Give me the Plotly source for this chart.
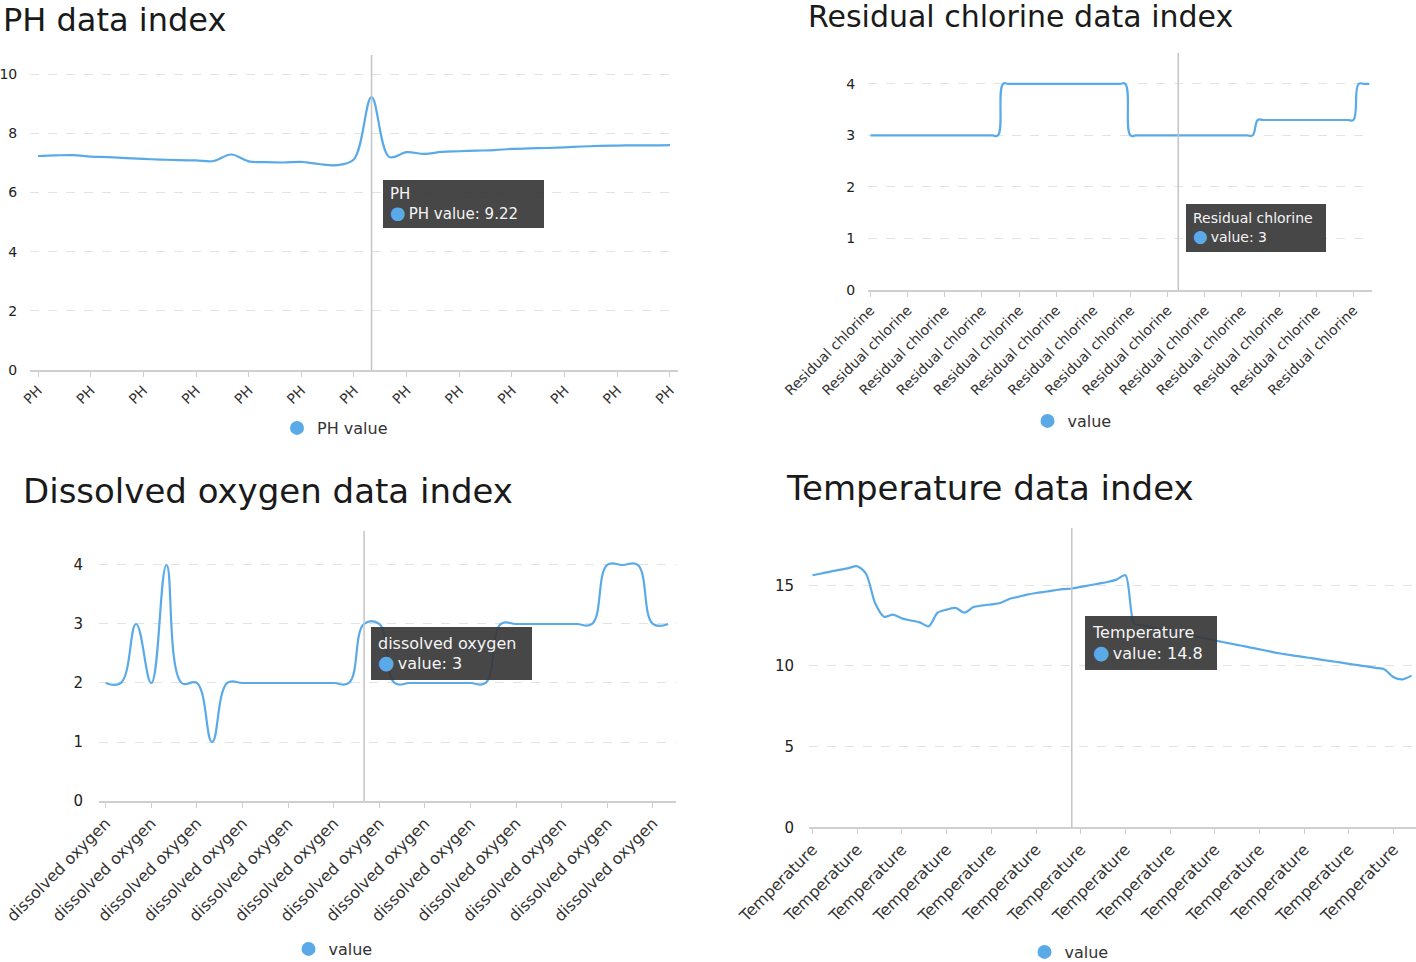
import plotly.graph_objects as go

# ---------------- data ----------------
ph_values = [7.23, 7.25, 7.26, 7.21, 7.19, 7.16, 7.13, 7.11, 7.09, 7.08, 7.06, 7.28, 7.05,
             7.02, 7.01, 7.03, 6.96, 6.92, 7.12, 9.22, 7.20, 7.36, 7.30, 7.37, 7.39, 7.41,
             7.43, 7.47, 7.49, 7.50, 7.52, 7.55, 7.57, 7.58, 7.59, 7.59, 7.60]
ph_category = "PH"
ph_label_step = 3
ph_hover_index = 19

chlorine_values = ([3] * 25 + [4] * 24 + [3] * 24 + [3.3] * 19 + [4] * 3)
chlorine_category = "Residual chlorine"
chlorine_label_step = 7
chlorine_hover_index = 58

oxygen_values = [2, 2, 3, 2, 4, 2, 2, 1, 2, 2, 2, 2, 2, 2, 2, 2, 2, 3, 3, 2, 2, 2, 2, 2, 2,
                 2, 3, 3, 3, 3, 3, 3, 3, 4, 4, 4, 3, 3]
oxygen_category = "dissolved oxygen"
oxygen_label_step = 3
oxygen_hover_index = 17

temp_values = [15.62, 15.73, 15.85, 15.95, 16.06, 16.18, 15.70, 13.90, 13.05, 13.18, 12.95,
               12.82, 12.70, 12.45, 13.30, 13.49, 13.60, 13.30, 13.65, 13.75, 13.82, 13.90,
               14.15, 14.28, 14.42, 14.52, 14.60, 14.68, 14.76, 14.80, 14.90, 15.00, 15.10,
               15.20, 15.35, 15.62, 12.60, 12.52, 12.35, 12.28, 12.16, 12.05, 11.93, 11.82,
               11.70, 11.58, 11.47, 11.36, 11.25, 11.14, 11.03, 10.92, 10.80, 10.71, 10.63,
               10.55, 10.47, 10.38, 10.30, 10.22, 10.13, 10.05, 9.97, 9.88, 9.78, 9.30,
               9.17, 9.40]
temp_category = "Temperature"
temp_label_step = 5
temp_hover_index = 29

# ---------------- styling ----------------
W, H = 1416, 962
BLUE = "#5aaae8"
FONT = "DejaVu Sans"
TXT = "#333333"


def px(x):
    return x / W


def py(y):
    return 1 - y / H


panels = [
    dict(key="", title="PH data index", title_xy=(1, 20), title_size=32,
         values=ph_values, cat=ph_category, header="PH", step=ph_label_step,
         hover=ph_hover_index, series="PH value", legend_name="PH value",
         xdom=(30, 678), ydom=(55, 370), xr=(-0.456, 36.457), yr=(0, 10.642), dtick=2,
         xfont=14, yfont=14, ystand=9, smooth=1.0,
         tip=(383, 180, 161, 48), tipfont=15, legend_xy=(335, 428)),
    dict(key="2", title="Residual chlorine data index", title_xy=(806, 17), title_size=30,
         values=chlorine_values, cat=chlorine_category, header="Residual chlorine",
         step=chlorine_label_step, hover=chlorine_hover_index, series="value",
         legend_name="value",
         xdom=(868, 1372), ydom=(53, 290), xr=(-0.47, 94.51), yr=(0, 4.60), dtick=1,
         xfont=14, yfont=14, ystand=9, smooth=1.3,
         tip=(1186, 204, 140, 48), tipfont=14, legend_xy=(1072, 421)),
    dict(key="3", title="Dissolved oxygen data index", title_xy=(21, 491), title_size=34,
         values=oxygen_values, cat=oxygen_category, header="dissolved oxygen",
         step=oxygen_label_step, hover=oxygen_hover_index, series="value",
         legend_name="value",
         xdom=(99, 676), ydom=(531, 801), xr=(-0.44, 37.52), yr=(0, 4.576), dtick=1,
         xfont=16, yfont=15, ystand=12, smooth=1.2,
         tip=(371, 627, 161, 53), tipfont=16, legend_xy=(333, 949)),
    dict(key="4", title="Temperature data index", title_xy=(784, 488), title_size=34,
         values=temp_values, cat=temp_category, header="Temperature",
         step=temp_label_step, hover=temp_hover_index, series="value",
         legend_name="value",
         xdom=(809, 1416), ydom=(528, 827.3), xr=(-0.39, 67.5), yr=(0, 18.55), dtick=5,
         xfont=16, yfont=15, ystand=11, smooth=0.8,
         tip=(1085, 616, 132, 54), tipfont=16, legend_xy=(1069, 952)),
]

fig = go.Figure()
layout = dict(width=W, height=H, margin=dict(l=0, r=0, t=0, b=0, autoexpand=False),
              paper_bgcolor="white", plot_bgcolor="white", template="none",
              font=dict(family=FONT, color=TXT), showlegend=True)
annotations = []
shapes = []

for p in panels:
    k = p["key"]
    xa = "x" + k
    ya = "y" + k
    leg = "legend" + k
    n = len(p["values"])
    xs = list(range(n))
    fig.add_trace(go.Scatter(
        x=xs, y=p["values"], mode="lines", xaxis=xa, yaxis=ya,
        line=dict(color=BLUE, width=2.2, shape="spline", smoothing=p["smooth"]),
        showlegend=False, hoverinfo="skip"))
    fig.add_trace(go.Scatter(
        x=[None], y=[None], mode="markers", xaxis=xa, yaxis=ya,
        marker=dict(color=BLUE, size=14, symbol="circle"),
        name=p["legend_name"], legend=leg, showlegend=True))

    tickvals = list(range(0, n, p["step"]))
    layout["xaxis" + k] = dict(
        domain=[px(p["xdom"][0]), px(p["xdom"][1])], anchor=ya, range=list(p["xr"]),
        automargin=False,
        tickmode="array", tickvals=tickvals, ticktext=[p["cat"]] * len(tickvals),
        tickangle=-45, ticks="outside", ticklen=5, tickcolor="#cfcfcf",
        showline=True, linecolor="#cfcfcf", linewidth=1.5,
        showgrid=False, zeroline=False,
        tickfont=dict(family=FONT, size=p["xfont"], color=TXT))
    layout["yaxis" + k] = dict(
        domain=[py(p["ydom"][1]), py(p["ydom"][0])], anchor=xa, range=list(p["yr"]),
        automargin=False,
        tick0=0, dtick=p["dtick"], showgrid=True, gridcolor="#e3e3e3", griddash="dash",
        gridwidth=1, showline=False, zeroline=False, ticks="outside",
        ticklen=p["ystand"], tickcolor="rgba(0,0,0,0)",
        tickfont=dict(family=FONT, size=p["yfont"], color="#222222"))
    layout[leg] = dict(
        x=px(p["legend_xy"][0]), y=py(p["legend_xy"][1]), xanchor="center",
        yanchor="middle", orientation="h", bgcolor="rgba(0,0,0,0)",
        font=dict(family=FONT, size=16, color=TXT), itemwidth=30)

    # title
    annotations.append(dict(
        text=p["title"], xref="paper", yref="paper",
        x=px(p["title_xy"][0]), y=py(p["title_xy"][1]), xanchor="left", yanchor="middle",
        showarrow=False, font=dict(family=FONT, size=p["title_size"], color="#1a1a1a")))

    # crosshair (axis pointer) at the hovered category
    hv = p["hover"]
    shapes.append(dict(type="line", xref=xa, yref=ya + " domain", x0=hv, x1=hv, y0=0, y1=1,
                       line=dict(color="#c4c4c4", width=1.5), layer="above"))

    # tooltip
    tx, ty, tw, th = p["tip"]
    val = p["values"][hv]
    dot = (f"<span style='font-family:DejaVu Sans;font-size:{p['tipfont'] + 3}px;"
           f"color:{BLUE}'>●</span>")
    text = f"{p['header']}<br>{dot}\u2009{p['series']}: {val:g}"
    pad = 7
    annotations.append(dict(
        text=text, xref="paper", yref="paper", x=px(tx), y=py(ty),
        xanchor="left", yanchor="top", align="left", valign="middle",
        width=tw - 2 * pad, height=th - 2 * pad, borderpad=pad, borderwidth=0,
        bgcolor="rgba(55,55,55,0.92)", showarrow=False,
        font=dict(family=FONT, size=p["tipfont"], color="#f4f4f4")))

layout["annotations"] = annotations
layout["shapes"] = shapes
fig.update_layout(**layout)

fig.write_html("out.html", config={"displayModeBar": False},
               post_script="document.body.style.margin='0';")
